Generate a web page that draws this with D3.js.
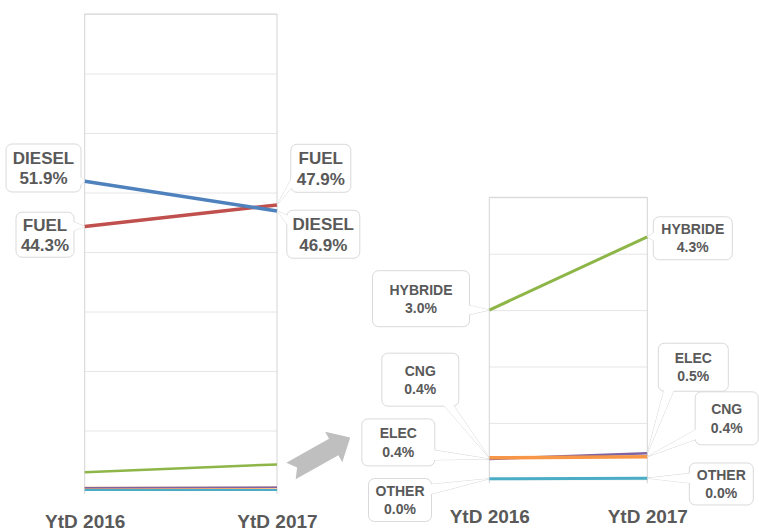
<!DOCTYPE html>
<html>
<head>
<meta charset="utf-8">
<script src="https://cdn.jsdelivr.net/npm/d3@7"></script>
<style>
  body { margin: 0; background: #fff; }
  svg { display: block; font-family: "Liberation Sans", Arial, sans-serif; }
</style>
</head>
<body>
<div id="chart"></div>
<script>
// data
const years = ["YtD 2016", "YtD 2017"];
const diesel = [51.9, 46.9];
const fuel = [44.3, 47.9];
const hybride = [3.0, 4.3];
const elec = [0.36, 0.46];
const cng = [0.38, 0.40];
const other = [0.01, 0.02];
const seriesNames = ["DIESEL", "FUEL", "HYBRIDE", "ELEC", "CNG", "OTHER"];
const mainTicks = [0, 10, 20, 30, 40, 50, 60, 70, 80];
const zoomTicks = [0, 1, 2, 3, 4, 5];

const W = 759, H = 530;
const textColor = "#595959";
const colors = {
  DIESEL: "#4F81BD", FUEL: "#C0504D", HYBRIDE: "#8DB547",
  ELEC: "#8064A2", CNG: "#F79646", OTHER: "#4BACC6"
};
const values = { DIESEL: diesel, FUEL: fuel, HYBRIDE: hybride, ELEC: elec, CNG: cng, OTHER: other };

const svg = d3.select("#chart").append("svg")
  .attr("width", W).attr("height", H);

const fmt = v => d3.format(".1f")(v) + "%";

// two panels: full view and zoom on the small shares
const panels = [
  {
    x: d3.scalePoint().domain(years).range([84.7, 277]),
    y: d3.scaleLinear().domain([0, 80]).range([490, 14]),
    ticks: mainTicks, axisY: 527.5, fontSize: 17, lineH: 20.5,
    lines: [
      { name: "OTHER", w: 2 }, { name: "CNG", w: 2 }, { name: "ELEC", w: 1.5 },
      { name: "HYBRIDE", w: 2.5 }, { name: "FUEL", w: 3.5 }, { name: "DIESEL", w: 3.5 }
    ],
    labels: [
      { name: "DIESEL", i: 0, dx: -41.2, dy: -13.2, w: 75, h: 48 },
      { name: "FUEL", i: 0, dx: -39.7, dy: 8.3, w: 58, h: 45 },
      { name: "FUEL", i: 1, dx: 43.8, dy: -36.7, w: 60, h: 48 },
      { name: "DIESEL", i: 1, dx: 46.3, dy: 23.3, w: 73, h: 48 }
    ]
  },
  {
    x: d3.scalePoint().domain(years).range([489.3, 647.3]),
    y: d3.scaleLinear().domain([0, 5]).range([479.3, 197.3]),
    ticks: zoomTicks, axisY: 522.5, fontSize: 14, lineH: 18.3,
    lines: [
      { name: "OTHER", w: 3 }, { name: "ELEC", w: 2.5 }, { name: "CNG", w: 3.5 },
      { name: "HYBRIDE", w: 3 }
    ],
    labels: [
      { name: "HYBRIDE", i: 0, dx: -68.3, dy: -11.4, w: 97, h: 56 },
      { name: "HYBRIDE", i: 1, dx: 45.5, dy: 1.5, w: 79, h: 43 },
      { name: "CNG", i: 0, dx: -69, dy: -78.2, w: 77, h: 53 },
      { name: "ELEC", i: 0, dx: -91, dy: -16.6, w: 73, h: 47 },
      { name: "OTHER", i: 0, dx: -89.3, dy: 21.3, w: 63, h: 43 },
      { name: "ELEC", i: 1, dx: 46, dy: -86.1, w: 70, h: 48 },
      { name: "CNG", i: 1, dx: 79.4, dy: -38.4, w: 63, h: 53 },
      { name: "OTHER", i: 1, dx: 74, dy: 5.8, w: 64, h: 42 }
    ]
  }
];

function drawCallout(g, px, py, cx, cy, w, h, lines, fs, lineH) {
  const x0 = cx - w / 2, x1 = cx + w / 2, y0 = cy - h / 2, y1 = cy + h / 2;
  const hw = 5, r = 6;
  // pick the box side that faces the point
  const outX = px > x1 ? px - x1 : (px < x0 ? x0 - px : 0);
  const outY = py > y1 ? py - y1 : (py < y0 ? y0 - py : 0);
  let base;
  if (outX >= outY) {
    const bx = px > cx ? x1 - 2 : x0 + 2;
    const by = Math.max(y0 + r + hw, Math.min(y1 - r - hw, py));
    base = [[bx, by - hw], [bx, by + hw]];
  } else {
    const by = py > cy ? y1 - 2 : y0 + 2;
    const bx = Math.max(x0 + r + hw, Math.min(x1 - r - hw, px));
    base = [[bx - hw, by], [bx + hw, by]];
  }
  const wedge = d3.line()([base[0], [px, py], base[1]]) + "Z";
  g.append("path").attr("d", wedge)
    .attr("fill", "#fff").attr("stroke", "#d9d9d9").attr("stroke-width", 1);
  g.append("rect").attr("x", x0).attr("y", y0).attr("width", w).attr("height", h)
    .attr("rx", r).attr("fill", "#fff").attr("stroke", "#d9d9d9").attr("stroke-width", 1);
  g.append("path").attr("d", wedge).attr("fill", "#fff");
  const cap = 0.716 * fs;
  const b1 = cy - lineH / 2 + cap / 2;
  lines.forEach((t, k) => {
    g.append("text").attr("x", cx).attr("y", b1 + k * lineH)
      .attr("text-anchor", "middle").attr("font-size", fs + "px")
      .attr("font-weight", "bold").attr("fill", textColor).text(t);
  });
}

panels.forEach(p => {
  const g = svg.append("g");
  const [xa, xb] = p.x.range();
  const [yBottom, yTop] = p.y.range();

  // horizontal gridlines
  g.append("g")
    .attr("transform", `translate(${xa},0)`)
    .call(d3.axisLeft(p.y).tickValues(p.ticks).tickSize(-(xb - xa)).tickFormat(""))
    .call(a => a.select(".domain").remove())
    .call(a => a.selectAll(".tick line").attr("stroke", "#e6e6e6"));

  // vertical borders at each year
  g.selectAll(".vline").data(years).enter().append("line")
    .attr("x1", d => p.x(d)).attr("x2", d => p.x(d))
    .attr("y1", yTop).attr("y2", yBottom + 4)
    .attr("stroke", "#d4d4d4").attr("stroke-width", 1);
  g.append("line").attr("x1", xa).attr("x2", xb).attr("y1", yTop).attr("y2", yTop)
    .attr("stroke", "#d4d4d4");

  // callouts
  p.labels.forEach(l => {
    const v = values[l.name][l.i];
    const px = p.x(years[l.i]), py = p.y(v);
    drawCallout(svg.append("g"), px, py, px + l.dx, py + l.dy, l.w, l.h,
      [l.name, fmt(v)], p.fontSize, p.lineH);
  });

  // series lines
  const line = d3.line().x((d, i) => p.x(years[i])).y(d => p.y(d));
  p.lines.forEach(s => {
    g.append("path").datum(values[s.name])
      .attr("d", line).attr("fill", "none")
      .attr("stroke", colors[s.name]).attr("stroke-width", s.w);
  });

  // x axis labels
  svg.append("g")
    .attr("transform", `translate(0,${p.axisY})`)
    .call(d3.axisBottom(p.x).tickSize(0).tickPadding(0))
    .call(a => a.select(".domain").remove())
    .call(a => a.selectAll("text")
      .attr("dy", 0).attr("y", 0)
      .attr("font-family", "'Liberation Sans', Arial, sans-serif")
      .attr("font-size", "19px").attr("font-weight", "bold")
      .attr("fill", textColor));
});

// block arrow pointing from the full view to the zoom
const L = 68, headL = 19, headW = 17.5, shaftW = 9.5, notch = 7;
const arrowPts = [[0, -shaftW], [L - headL, -shaftW], [L - headL, -headW], [L, 0],
  [L - headL, headW], [L - headL, shaftW], [0, shaftW], [notch, 0]];
svg.append("path")
  .attr("d", d3.line()(arrowPts) + "Z")
  .attr("transform", "translate(291,471) rotate(-29.4)")
  .attr("fill", "#bfbfbf");
</script>
</body>
</html>
